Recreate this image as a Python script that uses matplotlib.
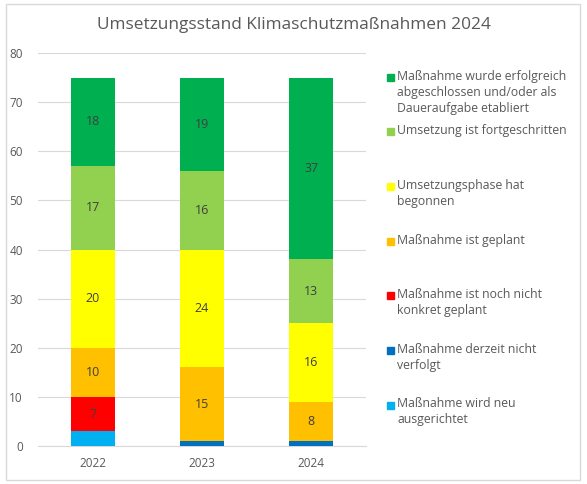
import matplotlib.pyplot as plt
from matplotlib.patches import Rectangle

jahre = ["2022", "2023", "2024"]

# Stapel von unten nach oben
kategorien = [
    "Maßnahme wird neu\nausgerichtet",
    "Maßnahme derzeit nicht\nverfolgt",
    "Maßnahme ist noch nicht\nkonkret geplant",
    "Maßnahme ist geplant",
    "Umsetzungsphase hat\nbegonnen",
    "Umsetzung ist fortgeschritten",
    "Maßnahme wurde erfolgreich\nabgeschlossen und/oder als\nDaueraufgabe etabliert",
]
farben = ["#00B0F0", "#0070C0", "#FF0000", "#FFC000", "#FFFF00", "#92D050", "#00B050"]

neu_ausgerichtet = [3, 0, 0]
nicht_verfolgt = [0, 1, 1]
nicht_konkret = [7, 0, 0]
geplant = [10, 15, 8]
begonnen = [20, 24, 16]
fortgeschritten = [17, 16, 13]
abgeschlossen = [18, 19, 37]

werte = [neu_ausgerichtet, nicht_verfolgt, nicht_konkret, geplant,
         begonnen, fortgeschritten, abgeschlossen]

textfarbe = "#595959"
plt.rcParams['font.family'] = ['Open Sans', 'DejaVu Sans']

fig = plt.figure(figsize=(5.87, 4.84), dpi=100)
ax = fig.add_axes([0.0647, 0.0785, 0.5588, 0.812])

x = list(range(len(jahre)))
unten = [0, 0, 0]
for reihe, farbe in zip(werte, farben):
    bars = ax.bar(x, reihe, bottom=unten, width=0.4, color=farbe, zorder=3)
    for b, v, u in zip(bars, reihe, unten):
        if v >= 5:
            ax.text(b.get_x() + b.get_width() / 2, u + v / 2, str(v),
                    ha="center", va="center", fontsize=9, color="#404040", zorder=4)
    unten = [u + v for u, v in zip(unten, reihe)]

ax.set_xlim(-0.5, 2.5)
ax.set_ylim(0, 80)
ax.set_yticks(range(0, 81, 10))
ax.set_xticks(x)
ax.set_xticklabels(jahre)
ax.grid(axis="y", color="#D9D9D9", linewidth=0.8, zorder=0)
for s in ["top", "right", "left"]:
    ax.spines[s].set_visible(False)
ax.spines["bottom"].set_color("#D9D9D9")
ax.tick_params(axis="both", length=0, labelsize=8.5, colors=textfarbe)
ax.tick_params(axis="y", pad=11)
ax.tick_params(axis="x", pad=8)

fig.text(0.5, 0.948, "Umsetzungsstand Klimaschutzmaßnahmen 2024", ha="center", va="center",
         fontsize=12.4, color=textfarbe)

# Legende, oberster Eintrag zuerst
leg_y = [77.7, 131.7, 186.7, 241.7, 295.7, 350.7, 405]
for i, y in enumerate(leg_y):
    k = len(kategorien) - 1 - i
    fy = 1 - y / 484
    fig.patches.append(Rectangle((387 / 587, fy - 3.5 / 484), 7 / 587, 7 / 484,
                                 transform=fig.transFigure, color=farben[k]))
    fig.text(397 / 587, fy + 8 / 484, kategorien[k], ha="left", va="top",
             fontsize=8.8, color=textfarbe, linespacing=1.3)

fig.patches.append(Rectangle((6 / 587, 4 / 484), 574 / 587, 476 / 484, transform=fig.transFigure,
                             fill=False, edgecolor="#D9D9D9", linewidth=1))

fig.savefig("out.png", dpi=100)
